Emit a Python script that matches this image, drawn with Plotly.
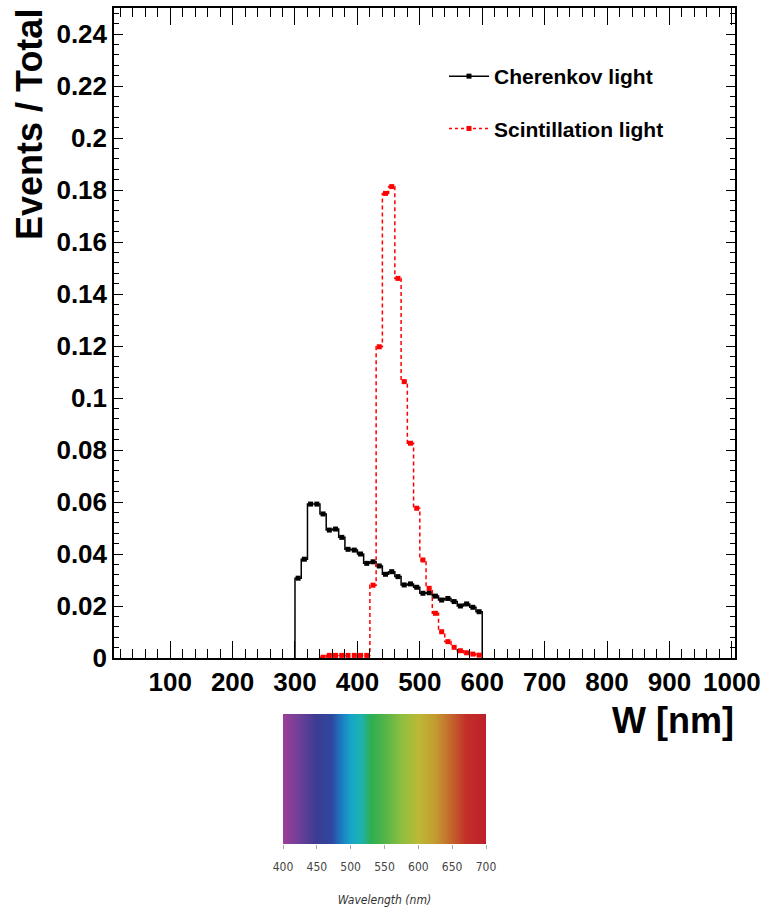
import numpy as np
import plotly.graph_objects as go

# ---------------- data ----------------
bin_width = 10.0
cherenkov_start = 300.0
cherenkov_values = [0.0307, 0.0380, 0.0592, 0.0592, 0.0554, 0.0492, 0.0496, 0.0464, 0.0418, 0.0415,
                    0.0400, 0.0364, 0.0370, 0.0354, 0.0322, 0.0332, 0.0313, 0.0281, 0.0285, 0.0272,
                    0.0249, 0.0251, 0.0238, 0.0223, 0.0229, 0.0217, 0.0200, 0.0208, 0.0195, 0.0178]
scint_start = 340.0
scint_values = [0.0003, 0.0010, 0.0010, 0.0010, 0.0010, 0.0010, 0.0010, 0.0010, 0.0280, 0.1197,
                0.1787, 0.1813, 0.1460, 0.1063, 0.0826, 0.0576, 0.0377, 0.0268, 0.0172, 0.0101,
                0.0063, 0.0041, 0.0028, 0.0020, 0.0015, 0.0011]
series_names = ["Cherenkov light", "Scintillation light"]
spectrum_ticks = [400, 450, 500, 550, 600, 650, 700]

# spectrum colour stops (wavelength nm, colour)
spectrum_stops = [(400, "#9c3e98"), (425, "#6b3f98"), (450, "#3b3c92"), (472, "#2f47a0"),
                  (485, "#1d78c0"), (500, "#16a5c8"), (515, "#1db3b0"), (530, "#2eae50"),
                  (550, "#52b447"), (575, "#8ebf3f"), (600, "#bcb935"), (625, "#c49a30"),
                  (650, "#c4612b"), (670, "#c23029"), (700, "#bd1f2a")]

W, H = 767, 917
def px(x): return x / W
def py(y): return 1 - y / H

FONT = "Liberation Sans, Arial, Helvetica, sans-serif"
NARROW = "Liberation Sans Narrow, DejaVu Sans Condensed, Liberation Sans, sans-serif"

def step_xy(start, vals):
    n = len(vals)
    edges = start + bin_width * np.arange(n + 1)
    xs = [edges[0]] + list(edges) + [edges[-1]]
    ys = [0.0] + list(vals) + [vals[-1], 0.0]
    centers = start + bin_width * (np.arange(n) + 0.5)
    return xs, ys, centers

fig = go.Figure()

cx, cy, cc = step_xy(cherenkov_start, cherenkov_values)
sx, sy, sc = step_xy(scint_start, scint_values)

fig.add_trace(go.Scatter(x=cx, y=cy, mode="lines", line=dict(color="black", width=1.5, shape="hv"),
                         showlegend=False, hoverinfo="skip"))
fig.add_trace(go.Scatter(x=cc, y=cherenkov_values, mode="markers",
                         marker=dict(symbol="square", size=5, color="black"), showlegend=False))
fig.add_trace(go.Scatter(x=sx, y=sy, mode="lines",
                         line=dict(color="#ff0000", width=1.5, shape="hv", dash="4px,3px"),
                         showlegend=False, hoverinfo="skip"))
fig.add_trace(go.Scatter(x=sc, y=scint_values, mode="markers",
                         marker=dict(symbol="square", size=5, color="#ff0000"), showlegend=False))

# legend-only entries
fig.add_trace(go.Scatter(x=[None], y=[None], mode="lines+markers", name=series_names[0],
                         legendgroup="a",
                         line=dict(color="black", width=1.5),
                         marker=dict(symbol="square", size=5, color="black")))
fig.add_trace(go.Scatter(x=[None], y=[None], mode="lines+markers", name=series_names[1],
                         legendgroup="b",
                         line=dict(color="#ff0000", width=1.5, dash="3px,3px"),
                         marker=dict(symbol="square", size=5, color="#ff0000")))

# spectrum image
wl = np.arange(400, 701, 1)
cscale = [[(w - 400) / 300.0, c] for w, c in spectrum_stops]
fig.add_trace(go.Heatmap(x=wl, y=[0, 1], z=[wl, wl], colorscale=cscale, zmin=400, zmax=700,
                         zsmooth="best", showscale=False, xaxis="x2", yaxis="y2", hoverinfo="skip"))

fig.update_layout(
    width=W, height=H,
    margin=dict(l=0, r=0, t=0, b=0),
    paper_bgcolor="white", plot_bgcolor="white",
    font=dict(family=FONT, color="black"),
    xaxis=dict(domain=[px(114), px(735)], range=[10, 1005], tick0=0, dtick=100,
               ticks="inside", ticklen=17, tickwidth=1.3, tickcolor="black",
               minor=dict(dtick=20, ticks="inside", ticklen=9, tickwidth=1.3, tickcolor="black"),
               showline=True, linecolor="black", linewidth=1.5, mirror="allticks",
               showgrid=False, zeroline=False, automargin=False,
               tickfont=dict(family=FONT, size=26, color="black", weight="bold"),
               anchor="y"),
    yaxis=dict(domain=[py(658), py(8)], range=[0, 0.25], tick0=0, dtick=0.02,
               ticks="inside", ticklen=9, tickwidth=1.3, tickcolor="black",
               minor=dict(dtick=0.004, ticks="inside", ticklen=5, tickwidth=1.3, tickcolor="black"),
               showline=True, linecolor="black", linewidth=1.5, mirror="allticks",
               showgrid=False, zeroline=False, automargin=False,
               tickfont=dict(family=FONT, size=26, color="black", weight="bold"),
               anchor="x"),
    xaxis2=dict(domain=[px(283), px(486)], range=[400, 700], tickvals=spectrum_ticks,
                ticks="outside", ticklen=4, tickcolor="#aaa", tickwidth=1,
                ticklabelstandoff=8,
                showline=False, showgrid=False, zeroline=False, automargin=False,
                tickfont=dict(family=NARROW, size=12, color="#444"),
                title=dict(text="Wavelength (nm)", standoff=22,
                           font=dict(family=NARROW, size=12, color="#333", style="italic")),
                anchor="y2"),
    yaxis2=dict(domain=[py(844), py(714)], range=[0, 1], visible=False, anchor="x2"),
    legend=dict(x=px(444), y=py(56), xanchor="left", yanchor="top",
                bgcolor="rgba(0,0,0,0)", borderwidth=0,
                font=dict(family=FONT, size=21, color="black", weight="bold"),
                traceorder="grouped", tracegroupgap=22, itemwidth=40),
    annotations=[
        dict(text="<b>Events / Total</b>", x=px(29), y=py(125), xref="paper", yref="paper",
             textangle=-90, showarrow=False, xanchor="center", yanchor="middle",
             font=dict(family=FONT, size=36, color="black")),
        dict(text="<b>W [nm]</b>", x=px(736), y=py(720), xref="paper", yref="paper",
             showarrow=False, xanchor="right", yanchor="middle",
             font=dict(family=FONT, size=36, color="black")),
    ],
)

fig.write_html("out.html")
